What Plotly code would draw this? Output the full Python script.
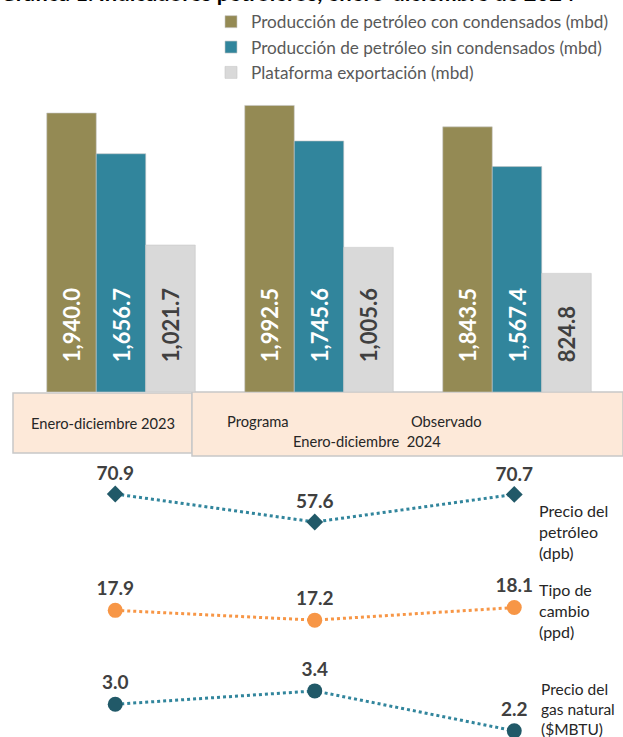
import plotly.graph_objects as go

W, H = 623, 737
FONT = "Lato"

categories = ["Enero-diciembre 2023", "Programa 2024", "Observado 2024"]
prod_con = [1940.0, 1992.5, 1843.5]
prod_sin = [1656.7, 1745.6, 1567.4]
plataforma = [1021.7, 1005.6, 824.8]

line_x = [0, 1, 2]
precio_petroleo = [70.9, 57.6, 70.7]
tipo_cambio = [17.9, 17.2, 18.1]
precio_gas = [3.0, 3.4, 2.2]

series_names = [
    "Producción de petróleo con condensados (mbd)",
    "Producción de petróleo sin condensados (mbd)",
    "Plataforma exportación (mbd)",
]
bar_colors = ["#948A54", "#31859C", "#D9D9D9"]
bar_text_colors = ["#FFFFFF", "#FFFFFF", "#404040"]

PAD = "\u00a0" * 5

def px_y(p):
    return (H - p) / H

fig = go.Figure()

for name, vals, col, tcol in zip(series_names, [prod_con, prod_sin, plataforma], bar_colors, bar_text_colors):
    fig.add_trace(go.Bar(
        x=categories, y=vals, name=name,
        marker=dict(color=col, line=dict(color="#C8C8C8", width=0.6)),
        text=[PAD + f"{v:,.1f}" for v in vals],
        textposition="inside", insidetextanchor="start", textangle=-90,
        constraintext="none",
        textfont=dict(family=FONT, size=22, color=tcol, weight="bold"),
        legendgroup=name, hoverinfo="skip",
        xaxis="x", yaxis="y",
    ))

line_specs = [
    (precio_petroleo, "y2", "#31859C", "#215968", "diamond", 13),
    (tipo_cambio, "y3", "#F79646", "#F79646", "circle", 15),
    (precio_gas, "y4", "#31859C", "#215968", "circle", 15),
]
for vals, ax, lcol, mcol, sym, ms in line_specs:
    fig.add_trace(go.Scatter(
        x=line_x, y=vals, mode="lines+markers+text",
        line=dict(color=lcol, width=3, dash="dot"),
        marker=dict(color=mcol, symbol=sym, size=ms),
        text=[f"{v:.1f}" for v in vals], textposition="top center",
        textfont=dict(family=FONT, size=19, color="#404040", weight="bold"),
        showlegend=False, hoverinfo="skip", cliponaxis=False,
        xaxis="x2", yaxis=ax,
    ))

hidden = dict(visible=False, showgrid=False, zeroline=False, fixedrange=True)
line_dom = [0, 0.4]

fig.update_layout(
    width=W, height=H,
    margin=dict(l=0, r=0, t=0, b=0),
    paper_bgcolor="white", plot_bgcolor="rgba(0,0,0,0)",
    barmode="group", bargap=0.25, bargroupgap=0,
    font=dict(family=FONT, color="#404040"),
    xaxis=dict(domain=[22 / W, 616 / W], range=[-0.5, 2.5], anchor="y", **hidden),
    yaxis=dict(domain=[px_y(392), px_y(75.6)], range=[0, 2200], anchor="x", **hidden),
    xaxis2=dict(domain=[15.5 / W, 614 / W], range=[-0.5, 2.5], anchor="y2", **hidden),
    yaxis2=dict(domain=line_dom, range=[-44.54, 95.5], anchor="x2", **hidden),
    yaxis3=dict(domain=line_dom, range=[8.852, 29.91], anchor="x2", overlaying="y2", **hidden),
    yaxis4=dict(domain=line_dom, range=[2.016, 10.869], anchor="x2", overlaying="y2", **hidden),
    legend=dict(
        x=211 / W, xanchor="left", y=px_y(4), yanchor="top",
        font=dict(family=FONT, size=17.2, color="#595959"),
        bgcolor="rgba(0,0,0,0)", tracegroupgap=13, traceorder="normal",
    ),
)

# category boxes
fig.add_shape(type="rect", xref="paper", yref="paper",
              x0=13 / W, x1=192 / W, y0=px_y(453), y1=px_y(393),
              fillcolor="#FDE9D9", line=dict(color="#C8C8C8", width=1.5), layer="below")
fig.add_shape(type="rect", xref="paper", yref="paper",
              x0=192 / W, x1=1.0, y0=px_y(456), y1=px_y(392),
              fillcolor="#FDE9D9", line=dict(color="#C8C8C8", width=1.5), layer="below")

def ann(text, x, y, size=15, xanchor="center", yanchor="middle", align="center", color="#262626", bold=False):
    fig.add_annotation(text=text, xref="paper", yref="paper", x=x / W, y=px_y(y),
                       xanchor=xanchor, yanchor=yanchor, align=align, showarrow=False,
                       font=dict(family=FONT, size=size, color=color, weight="bold" if bold else "normal"))

ann("Enero-diciembre 2023", 103, 423, size=14.7)
ann("Programa", 258, 421, size=14.7)
ann("Observado", 446, 421, size=14.7)
ann("Enero-diciembre  2024", 367, 441, size=14.7)

ann("Precio del<br>petróleo<br>(dpb)", 537, 531, size=16, xanchor="left", align="left")
ann("Tipo de<br>cambio<br>(ppd)", 537, 610, size=16, xanchor="left", align="left")
ann("Precio del<br>gas natural<br>($MBTU)", 539, 709, size=15.5, xanchor="left", align="left")

# title (clipped at top edge as in the reference)
fig.add_annotation(text="Gráfica 1. Indicadores petroleros, enero-diciembre de 2024",
                   xref="paper", yref="paper", x=-2 / W, y=px_y(8), xanchor="left", yanchor="bottom",
                   showarrow=False, font=dict(family=FONT, size=22, color="#000000", weight="bold"))

fig.write_html(
    "out.html", config={"displayModeBar": False},
    post_script="document.body.style.margin='0px';document.body.style.padding='0px';",
)
